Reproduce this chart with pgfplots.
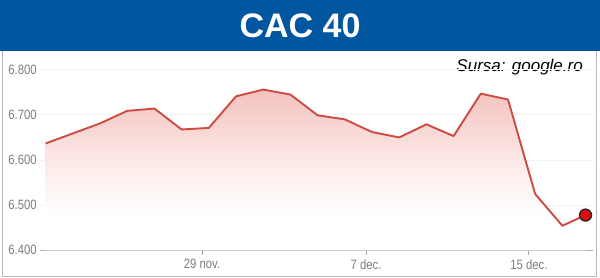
\documentclass[border=0pt]{standalone}
\usepackage{fontspec}
\setmainfont{Liberation Sans}
\newfontfamily\narrowfont[FakeStretch=0.84]{Liberation Sans}
\usepackage{pgfplots}
\usepackage{pgfplotstable}
\pgfplotsset{compat=1.18}
\definecolor{hdrblue}{RGB}{0,87,160}
\definecolor{linered}{RGB}{205,76,66}
\definecolor{tickgray}{RGB}{125,125,125}
\definecolor{shadetop}{RGB}{243,194,190}
\definecolor{shademid}{RGB}{252,232,230}
\definecolor{shadelow}{RGB}{254,246,245}
\pgfdeclareverticalshading{cacfade}{100bp}{color(0bp)=(white); color(25bp)=(white); color(35bp)=(white); color(44bp)=(shadelow); color(53bp)=(shademid); color(75bp)=(shadetop); color(100bp)=(shadetop)}
\pgfplotstableread{
x y
0 6636.7
1 6658.8
2 6681
3 6708.8
4 6714
5 6667.7
6 6671
7 6741
8 6756
9 6745
10 6699
11 6690
12 6662
13 6650
14 6679
15 6653
16 6747
17 6734
18 6524.6
19 6454.4
19.85 6478
}\cacdata
\begin{document}
\begin{tikzpicture}[x=1pt,y=1pt]
\path[use as bounding box] (0,0) rectangle (600,278);
\fill[white] (0,0) rectangle (600,278);
\draw[gray!55, line width=1] (2,1.5) rectangle (596.5,276);
\fill[hdrblue] (0,227.3) rectangle (600,278);
\node[anchor=base, text=white, inner sep=0, font=\fontsize{34}{40}\selectfont\bfseries] at (300,240) {CAC 40};
\node[anchor=base east, inner sep=0, font=\fontsize{17}{20}\selectfont\itshape] at (583,206.3) {Sursa: google.ro};
\begin{axis}[
  at={(40pt,27.7pt)}, anchor=south west,
  scale only axis, width=553pt, height=180.6pt,
  xmin=-0.206, xmax=20.125, ymin=6400, ymax=6800,
  axis x line=bottom, axis y line=left,
  axis line style={-},
  x axis line style={draw=gray!60, line width=1.2pt},
  y axis line style={draw=none},
  ytick={6400,6500,6600,6700,6800},
  yticklabels={6.400,6.500,6.600,6.700,6.800},
  xtick={5.75,11.78,17.77},
  xticklabels={29 nov.,7 dec.,15 dec.},
  ymajorgrids, grid style={draw=gray!10, line width=0.8pt},
  tick align=outside, major tick length=5pt,
  xtick style={draw=gray!70, line width=1pt},
  ytick style={draw=none},
  tick label style={font=\narrowfont\fontsize{13.5}{16}\selectfont, text=tickgray},
  yticklabel style={anchor=east, inner sep=0pt, xshift=2pt},
  xticklabel style={anchor=north, inner sep=0pt, yshift=-4pt},
  clip=false,
]
\addplot[draw=none, shading=cacfade, forget plot] table {\cacdata} \closedcycle;
\addplot[linered, line width=1.9pt, line join=round] table {\cacdata};
\addplot[only marks, mark=*, mark size=6pt, mark options={fill=red!85!black!95, draw=black!85, line width=1.3pt}] coordinates {(19.85,6478)};
\end{axis}
\end{tikzpicture}
\end{document}
